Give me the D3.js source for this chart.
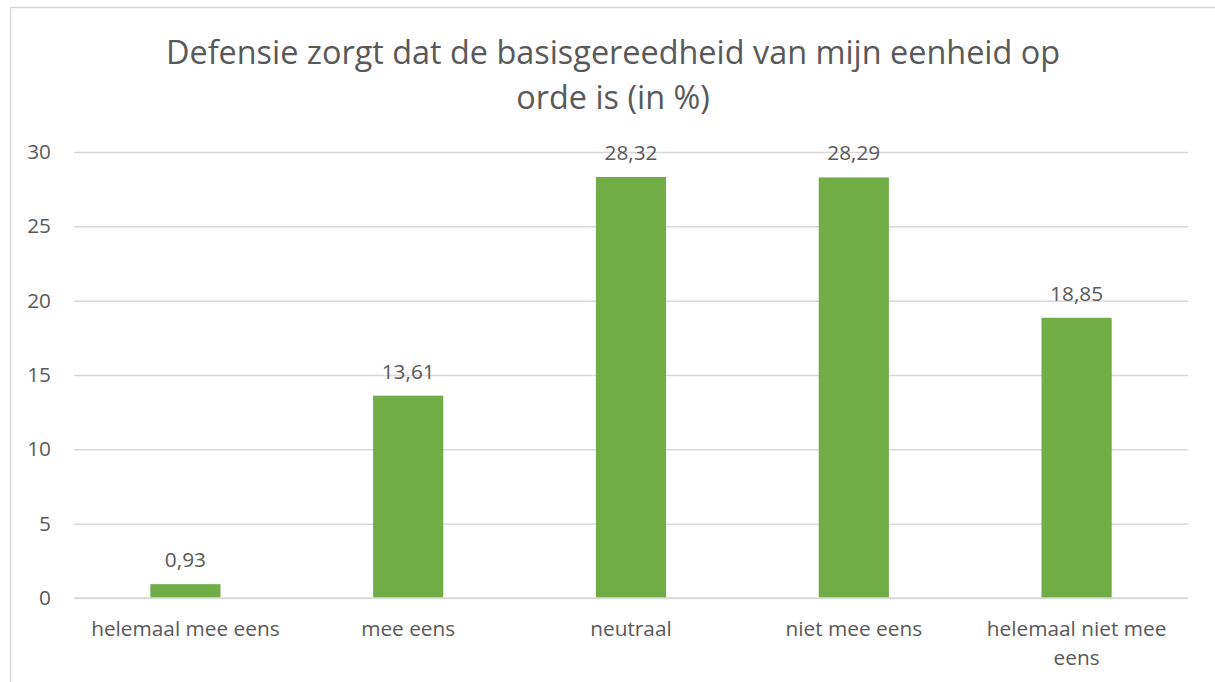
<!DOCTYPE html>
<html>
<head>
<meta charset="utf-8">
<script src="https://cdn.jsdelivr.net/npm/d3@7"></script>
<style>
html,body{margin:0;padding:0;background:#fff;}
svg{display:block;}
text{font-family:"Open Sans","Noto Sans",sans-serif;fill:#595959;}
</style>
</head>
<body>
<svg id="chart" width="1215" height="682"></svg>
<script>
const categories = ["helemaal mee eens", "mee eens", "neutraal", "niet mee eens", "helemaal niet mee eens"];
const values = [0.93, 13.61, 28.32, 28.29, 18.85];
const labels = ["0,93", "13,61", "28,32", "28,29", "18,85"];
const yTicks = [0, 5, 10, 15, 20, 25, 30];
const titleLines = ["Defensie zorgt dat de basisgereedheid van mijn eenheid op", "orde is (in %)"];

const svg = d3.select("#chart");
const FS = 20.8;

// chart border
svg.append("path")
  .attr("d", "M10.5,682 V7.5 H1215")
  .attr("fill", "none").attr("stroke", "#d9d9d9").attr("stroke-width", 1.5);

const plot = {left: 74, right: 1188, top: 152, bottom: 598};
const x = d3.scaleBand().domain(categories).range([plot.left, plot.right]).paddingInner(0.685).paddingOuter(0.3425);
const y = d3.scaleLinear().domain([0, 30]).range([plot.bottom, plot.top]);

// title
svg.append("g").selectAll("text").data(titleLines).enter().append("text")
  .attr("x", 613).attr("y", (d, i) => 64 + i * 45)
  .attr("text-anchor", "middle").attr("font-size", 32.4)
  .text(d => d);

// gridlines + y ticks
const yAxis = d3.axisLeft(y).tickValues(yTicks).tickSize(-(plot.right - plot.left)).tickPadding(23).tickFormat(d3.format("d"));
const gy = svg.append("g").attr("transform", `translate(${plot.left},0)`).call(yAxis);
gy.select(".domain").remove();
gy.selectAll(".tick line").attr("stroke", "#d9d9d9").attr("stroke-width", 1.5);
gy.selectAll(".tick text").attr("font-size", FS).attr("fill", "#595959").attr("font-family", '"Open Sans","Noto Sans",sans-serif');

// bars
svg.append("g").selectAll("rect").data(values).enter().append("rect")
  .attr("x", (d, i) => x(categories[i]))
  .attr("width", x.bandwidth())
  .attr("y", d => y(d))
  .attr("height", d => y(0) - y(d))
  .attr("fill", "#70ad47");

// baseline over bars
svg.append("line").attr("x1", plot.left).attr("x2", plot.right)
  .attr("y1", y(0)).attr("y2", y(0)).attr("stroke", "#d9d9d9").attr("stroke-width", 1.5);

// data labels
svg.append("g").selectAll("text").data(values).enter().append("text")
  .attr("x", (d, i) => x(categories[i]) + x.bandwidth() / 2)
  .attr("y", d => y(d) - 17)
  .attr("text-anchor", "middle").attr("font-size", FS)
  .text((d, i) => labels[i]);

// x labels (wrap)
const xOuter = d3.scaleBand().domain(categories).range([plot.left, plot.right]);
const maxW = xOuter.bandwidth() - 16;
const xl = svg.append("g");
categories.forEach(c => {
  const cx = xOuter(c) + xOuter.bandwidth() / 2;
  const t = xl.append("text").attr("x", cx).attr("y", 636)
    .attr("text-anchor", "middle").attr("font-size", FS);
  const words = c.split(" ");
  let line = [];
  let ts = t.append("tspan").attr("x", cx).attr("dy", 0);
  words.forEach(w => {
    line.push(w);
    ts.text(line.join(" "));
    if (ts.node().getComputedTextLength() > maxW && line.length > 1) {
      line.pop();
      ts.text(line.join(" "));
      line = [w];
      ts = t.append("tspan").attr("x", cx).attr("dy", 29).text(w);
    }
  });
});
</script>
</body>
</html>
